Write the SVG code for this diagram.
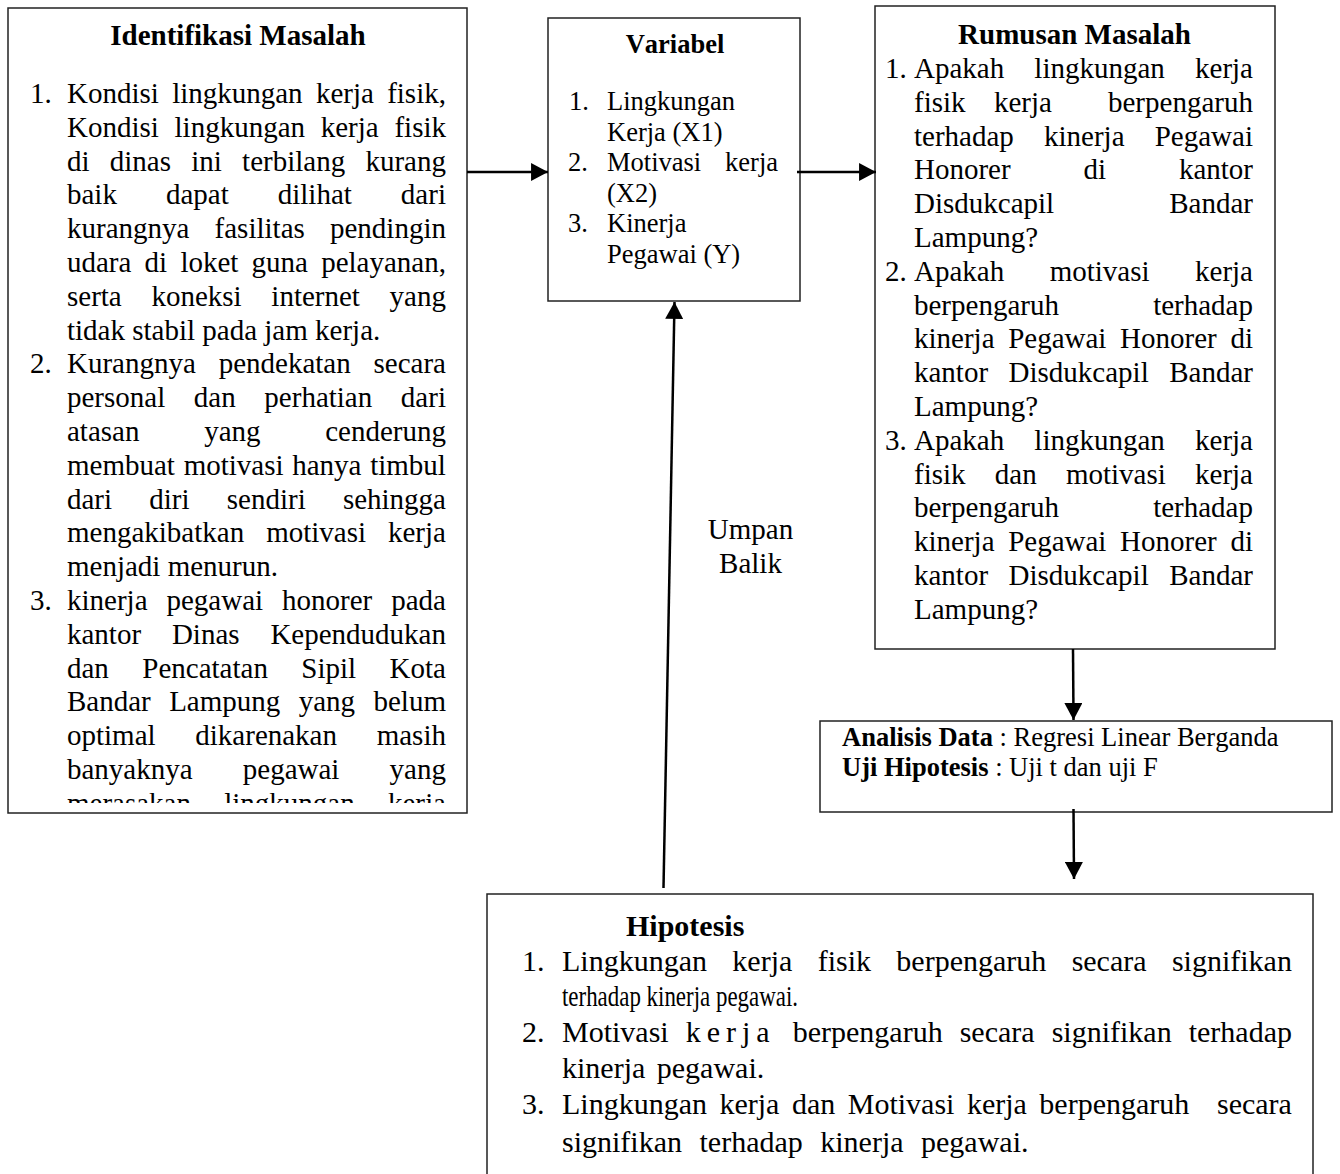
<svg xmlns="http://www.w3.org/2000/svg" width="1340" height="1174" viewBox="0 0 1340 1174">
<style>
text{font-family:"Liberation Serif","Times New Roman",serif;fill:#000;font-kerning:none}
.b29{font-size:29px}
.t29{font-size:29px;font-weight:bold}
.b26{font-size:26.5px}
.t26{font-size:26.5px;font-weight:bold}
.h30{font-size:30px}
.th{font-size:30px;font-weight:bold}
.box{fill:#fff;stroke:#222;stroke-width:1.5}
.con{stroke:#000;stroke-width:2.5;fill:none}
.mid{text-anchor:middle}
</style>
<defs>
<marker id="ah" markerUnits="userSpaceOnUse" markerWidth="18" markerHeight="18" viewBox="0 0 16 17" refX="16" refY="8.5" orient="auto">
<path d="M0,0 L16,8.5 L0,17 Z" fill="#000"/>
</marker>
<clipPath id="clipL"><rect x="8" y="8" width="459" height="795"/></clipPath>
</defs>
<rect width="1340" height="1174" fill="#fff"/>

<g id="identifikasi">
<rect class="box" x="8" y="8" width="459" height="805"/>
<text class="t29 mid" x="238" y="45">Identifikasi Masalah</text>
<g clip-path="url(#clipL)" class="b29">
<text x="30" y="103">1.</text>
<text x="67" y="103" word-spacing="6.04">Kondisi lingkungan kerja fisik,</text>
<text x="67" y="136.8" word-spacing="8.46">Kondisi lingkungan kerja fisik</text>
<text x="67" y="170.6" word-spacing="12.99">di dinas ini terbilang kurang</text>
<text x="67" y="204.4" word-spacing="41.76">baik dapat dilihat dari</text>
<text x="67" y="238.2" word-spacing="17.94">kurangnya fasilitas pendingin</text>
<text x="67" y="272" word-spacing="5.96">udara di loket guna pelayanan,</text>
<text x="67" y="305.8" word-spacing="22.44">serta koneksi internet yang</text>
<text x="67" y="339.6">tidak stabil pada jam kerja.</text>
<text x="30" y="373.4">2.</text>
<text x="67" y="373.4" word-spacing="15.57">Kurangnya pendekatan secara</text>
<text x="67" y="407.2" word-spacing="21.37">personal dan perhatian dari</text>
<text x="67" y="441" word-spacing="57.43">atasan yang cenderung</text>
<text x="67" y="474.8" word-spacing="1.47">membuat motivasi hanya timbul</text>
<text x="67" y="508.6" word-spacing="29.95">dari diri sendiri sehingga</text>
<text x="67" y="542.4" word-spacing="14.72">mengakibatkan motivasi kerja</text>
<text x="67" y="576.2">menjadi menurun.</text>
<text x="30" y="610">3.</text>
<text x="67" y="610" word-spacing="11.72">kinerja pegawai honorer pada</text>
<text x="67" y="643.8" word-spacing="23.59">kantor Dinas Kependudukan</text>
<text x="67" y="677.6" word-spacing="26.19">dan Pencatatan Sipil Kota</text>
<text x="67" y="711.4" word-spacing="11.15">Bandar Lampung yang belum</text>
<text x="67" y="745.2" word-spacing="32.44">optimal dikarenakan masih</text>
<text x="67" y="779" word-spacing="42.93">banyaknya pegawai yang</text>
<text x="67" y="812.8" word-spacing="26.01">merasakan lingkungan kerja</text>
</g>
</g>

<g id="variabel">
<rect class="box" x="548" y="18" width="252" height="283"/>
<text class="t26 mid" x="675" y="53">Variabel</text>
<g class="b26">
<text x="569" y="110">1.</text>
<text x="607" y="110">Lingkungan</text>
<text x="607" y="140.5">Kerja (X1)</text>
<text x="568" y="171">2.</text>
<text x="607" y="171" word-spacing="17.2">Motivasi kerja</text>
<text x="607" y="201.5">(X2)</text>
<text x="568" y="232">3.</text>
<text x="607" y="232">Kinerja</text>
<text x="607" y="262.5">Pegawai (Y)</text>
</g>
</g>

<g id="rumusan">
<rect class="box" x="875" y="6" width="400" height="643"/>
<text class="t29 mid" x="1074.5" y="44">Rumusan Masalah</text>
<g class="b29">
<text x="885" y="78">1.</text>
<text x="914" y="78" word-spacing="22.92">Apakah lingkungan kerja</text>
<text y="111.8"><tspan x="914">fisik</tspan><tspan x="994">kerja</tspan><tspan x="1108">berpengaruh</tspan></text>
<text x="914" y="145.6" word-spacing="22.93">terhadap kinerja Pegawai</text>
<text x="914" y="179.4" word-spacing="65.61">Honorer di kantor</text>
<text x="914" y="213.2" word-spacing="107.84">Disdukcapil Bandar</text>
<text x="914" y="247">Lampung?</text>
<text x="885" y="280.8">2.</text>
<text x="914" y="280.8" word-spacing="38.22">Apakah motivasi kerja</text>
<text x="914" y="314.6" word-spacing="86.96">berpengaruh terhadap</text>
<text x="914" y="348.4" word-spacing="6.42">kinerja Pegawai Honorer di</text>
<text x="914" y="382.2" word-spacing="13.25">kantor Disdukcapil Bandar</text>
<text x="914" y="416">Lampung?</text>
<text x="885" y="449.8">3.</text>
<text x="914" y="449.8" word-spacing="22.92">Apakah lingkungan kerja</text>
<text x="914" y="483.6" word-spacing="21.98">fisik dan motivasi kerja</text>
<text x="914" y="517.4" word-spacing="86.96">berpengaruh terhadap</text>
<text x="914" y="551.2" word-spacing="6.42">kinerja Pegawai Honorer di</text>
<text x="914" y="585" word-spacing="13.25">kantor Disdukcapil Bandar</text>
<text x="914" y="618.8">Lampung?</text>
</g>
</g>

<g id="analisis">
<rect class="box" x="820" y="721" width="512" height="91"/>
<text class="b26" x="842" y="746"><tspan font-weight="bold">Analisis Data</tspan> : Regresi Linear Berganda</text>
<text class="b26" x="842" y="776"><tspan font-weight="bold">Uji Hipotesis</tspan> : Uji t dan uji F</text>
</g>

<g id="hipotesis">
<rect class="box" x="487" y="894" width="826" height="300"/>
<text class="th" x="626" y="936">Hipotesis</text>
<g class="h30">
<text x="522" y="971">1.</text>
<text x="562" y="971" word-spacing="17.86">Lingkungan kerja fisik berpengaruh secara signifikan</text>
<text x="562" y="1006" textLength="236" lengthAdjust="spacingAndGlyphs">terhadap kinerja pegawai.</text>
<text x="522" y="1042">2.</text>
<text x="562" y="1042" word-spacing="9.54">Motivasi <tspan letter-spacing="6">kerja</tspan> berpengaruh secara signifikan terhadap</text>
<text x="562" y="1078" word-spacing="4">kinerja pegawai.</text>
<text x="522" y="1114">3.</text>
<text y="1114"><tspan x="562" word-spacing="5">Lingkungan kerja dan Motivasi kerja berpengaruh</tspan><tspan x="1217">secara</tspan></text>
<text x="562" y="1152" word-spacing="10">signifikan terhadap kinerja pegawai.</text>
</g>
</g>

<g id="umpan-balik">
<text class="b29 mid" x="750.5" y="539">Umpan</text>
<text class="b29 mid" x="750.5" y="573">Balik</text>
</g>

<g id="connectors">
<line class="con" x1="467" y1="172" x2="548" y2="172" marker-end="url(#ah)"/>
<line class="con" x1="797" y1="172" x2="876" y2="172" marker-end="url(#ah)"/>
<line class="con" x1="1073" y1="649" x2="1073.5" y2="720" marker-end="url(#ah)"/>
<line class="con" x1="1073.5" y1="809" x2="1074" y2="879" marker-end="url(#ah)"/>
<line class="con" x1="663.5" y1="888" x2="674.5" y2="302" marker-end="url(#ah)"/>
</g>
</svg>
